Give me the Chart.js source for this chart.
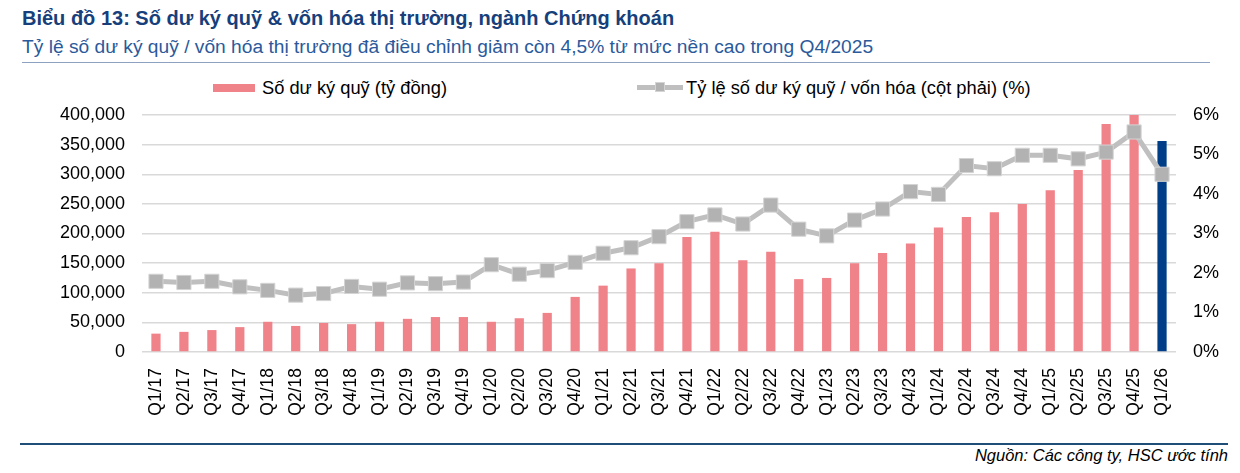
<!DOCTYPE html>
<html lang="vi">
<head>
<meta charset="utf-8">
<title>Số dư ký quỹ & vốn hóa thị trường</title>
<script src="https://cdn.jsdelivr.net/npm/chart.js@4.4.1/dist/chart.umd.min.js"></script>
<style>
  html, body { margin: 0; padding: 0; background: #fff; }
  body { width: 1240px; height: 473px; position: relative; overflow: hidden; font-family: "Liberation Sans", Arial, sans-serif; }
  .title { position: absolute; left: 22px; top: 7px; font-size: 20px; font-weight: bold; color: #173f7b; white-space: nowrap; }
  .subtitle { position: absolute; left: 22px; top: 36px; font-size: 19.2px; color: #2a5a9b; white-space: nowrap; }
  .rule-top { position: absolute; left: 22px; top: 62px; width: 1188px; height: 1px; background: #8da2c0; }
  .rule-bottom { position: absolute; left: 20px; top: 443px; width: 1208px; height: 2px; background: #1f4e79; }
  .source { position: absolute; right: 12px; top: 446px; font-size: 16.5px; font-style: italic; color: #000; white-space: nowrap; }
  .legend { position: absolute; top: 78px; left: 0; height: 20px; font-size: 18.3px; color: #000; }
  .legend .item { position: absolute; top: 0; white-space: nowrap; line-height: 20px; }
  .legend .box { position: absolute; top: 6px; width: 42px; height: 8px; background: #f08289; }
  .legend .ln { position: absolute; top: 7px; width: 46px; height: 5px; background: #bfbfbf; }
  .legend .mk { position: absolute; top: 4px; width: 10px; height: 10px; background: #b2b2b2; border: 1px solid #d4d4d4; box-sizing: border-box; }
  #wrap { position: absolute; left: 0; top: 70px; width: 1240px; height: 370px; }
</style>
</head>
<body>
<div class="title">Biểu đồ 13: Số dư ký quỹ &amp; vốn hóa thị trường, ngành Chứng khoán</div>
<div class="subtitle">Tỷ lệ số dư ký quỹ / vốn hóa thị trường đã điều chỉnh giảm còn 4,5% từ mức nền cao trong Q4/2025</div>
<div class="rule-top"></div>

<div class="legend">
  <div class="box" style="left:213px"></div>
  <div class="item" style="left:262px" id="legBar"></div>
  <div class="ln" style="left:637px"></div>
  <div class="mk" style="left:655px"></div>
  <div class="item" style="left:686px" id="legLine"></div>
</div>

<div id="wrap"><canvas id="marginChart"></canvas></div>

<div class="rule-bottom"></div>
<div class="source">Nguồn: Các công ty, HSC ước tính</div>

<script>
// Quarter labels
const quarters = [
  'Q1/17', 'Q2/17', 'Q3/17', 'Q4/17',
  'Q1/18', 'Q2/18', 'Q3/18', 'Q4/18',
  'Q1/19', 'Q2/19', 'Q3/19', 'Q4/19',
  'Q1/20', 'Q2/20', 'Q3/20', 'Q4/20',
  'Q1/21', 'Q2/21', 'Q3/21', 'Q4/21',
  'Q1/22', 'Q2/22', 'Q3/22', 'Q4/22',
  'Q1/23', 'Q2/23', 'Q3/23', 'Q4/23',
  'Q1/24', 'Q2/24', 'Q3/24', 'Q4/24',
  'Q1/25', 'Q2/25', 'Q3/25', 'Q4/25',
  'Q1/26'
];

// Margin balance, billion VND (left axis)
const marginBalance = [
  31000, 34000, 37000, 42000,
  51000, 44000, 49000, 47000,
  51000, 56000, 59000, 59000,
  51000, 57000, 66000, 93000,
  112000, 141000, 150000, 194000,
  203000, 155000, 169000, 123000,
  125000, 150000, 167000, 183000,
  210000, 228000, 236000, 250000,
  273000, 307000, 385000, 400000,
  356000
];

// Margin / market cap ratio, % (right axis)
const marginRatio = [
  1.79, 1.76, 1.79, 1.65,
  1.56, 1.44, 1.48, 1.66,
  1.59, 1.75, 1.73, 1.77,
  2.21, 1.97, 2.06, 2.27,
  2.50, 2.64, 2.92, 3.30,
  3.47, 3.24, 3.72, 3.11,
  2.94, 3.34, 3.62, 4.06,
  3.99, 4.72, 4.64, 4.98,
  4.98, 4.89, 5.06, 5.57,
  4.50
];

const leftTicks = [0, 50000, 100000, 150000, 200000, 250000, 300000, 350000, 400000];
const rightTicks = [0, 1, 2, 3, 4, 5, 6];

const barLabel = 'Số dư ký quỹ (tỷ đồng)';
const lineLabel = 'Tỷ lệ số dư ký quỹ / vốn hóa (cột phải) (%)';

document.getElementById('legBar').textContent = barLabel;
document.getElementById('legLine').textContent = lineLabel;

// latest quarter (estimate) is highlighted in navy
const barColors = quarters.map((q, i) => i === quarters.length - 1 ? '#003f87' : '#f08289');

const tickFont = { family: '"Liberation Sans", Arial, sans-serif', size: 18 };

new Chart(document.getElementById('marginChart'), {
  data: {
    labels: quarters,
    datasets: [
      {
        type: 'line',
        label: lineLabel,
        data: marginRatio,
        yAxisID: 'y1',
        order: 0,
        borderColor: '#bfbfbf',
        borderWidth: 5,
        pointStyle: 'rect',
        pointRadius: 10,
        pointHoverRadius: 10,
        pointBackgroundColor: '#b2b2b2',
        pointBorderColor: '#d4d4d4',
        pointBorderWidth: 1,
        tension: 0
      },
      {
        type: 'bar',
        label: barLabel,
        data: marginBalance,
        yAxisID: 'y',
        order: 1,
        backgroundColor: barColors,
        categoryPercentage: 1,
        barPercentage: 0.33
      }
    ]
  },
  options: {
    responsive: true,
    maintainAspectRatio: false,
    animation: false,
    layout: { padding: { top: 45, left: 0, right: 0, bottom: 0 } },
    plugins: {
      legend: { display: false },
      tooltip: { enabled: false }
    },
    scales: {
      x: {
        grid: { display: false },
        border: { display: false },
        ticks: {
          color: '#000',
          font: { family: tickFont.family, size: 17.5 },
          minRotation: 90,
          maxRotation: 90,
          padding: 8,
          autoSkip: false
        },
        afterFit: scale => { scale.height = 88; }
      },
      y: {
        position: 'left',
        min: 0,
        max: 400000,
        afterBuildTicks: scale => { scale.ticks = leftTicks.map(v => ({ value: v })); },
        grid: { color: '#d9d9d9', lineWidth: 1.5, drawTicks: false },
        border: { display: false },
        ticks: {
          color: '#000',
          font: tickFont,
          padding: 17,
          callback: v => v.toLocaleString('en-US')
        },
        afterFit: scale => { scale.width = 142; }
      },
      y1: {
        position: 'right',
        min: 0,
        max: 6,
        afterBuildTicks: scale => { scale.ticks = rightTicks.map(v => ({ value: v })); },
        grid: { drawOnChartArea: false, drawTicks: false },
        border: { display: false },
        ticks: {
          color: '#000',
          font: tickFont,
          padding: 17,
          callback: v => v + '%'
        },
        afterFit: scale => { scale.width = 64; }
      }
    }
  }
});
</script>
</body>
</html>
